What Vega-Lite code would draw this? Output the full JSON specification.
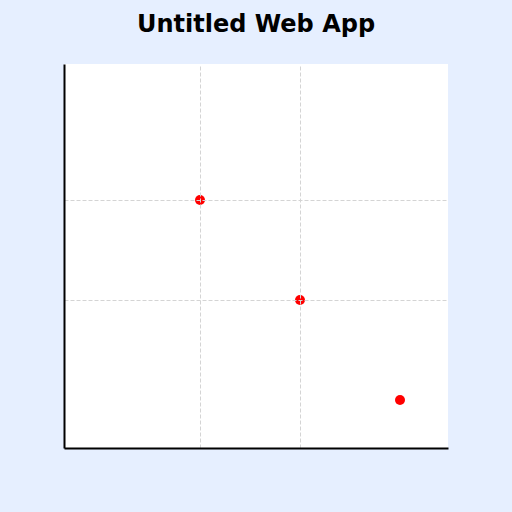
{
  "$schema": "https://vega.github.io/schema/vega-lite/v6.json",
  "autosize": "none",
  "width": 384,
  "height": 384,
  "padding": {"left": 64, "top": 64, "right": 64, "bottom": 64},
  "background": "#e6efff",
  "title": {
    "text": "Untitled Web App",
    "font": "DejaVu Sans",
    "fontSize": 24,
    "fontWeight": "bold",
    "color": "black",
    "anchor": "middle",
    "baseline": "alphabetic",
    "offset": 8
  },
  "config": {
    "view": {"stroke": null, "fill": "white"}
  },
  "data": {
    "values": [
      {"x": 200, "y": 200},
      {"x": 300, "y": 300},
      {"x": 400, "y": 400}
    ]
  },
  "mark": {"type": "circle", "color": "red", "opacity": 1, "size": 100},
  "encoding": {
    "x": {
      "field": "x",
      "type": "quantitative",
      "title": null,
      "scale": {"domain": [64, 448], "nice": false, "zero": false},
      "axis": {
        "values": [200, 300],
        "labels": false,
        "ticks": false,
        "domainColor": "black",
        "domainWidth": 2,
        "gridColor": "#d4d4d4",
        "gridDash": [4, 2],
        "gridWidth": 1,
        "zindex": 1
      }
    },
    "y": {
      "field": "y",
      "type": "quantitative",
      "title": null,
      "scale": {"domain": [64, 448], "nice": false, "zero": false, "reverse": true},
      "axis": {
        "values": [200, 300],
        "labels": false,
        "ticks": false,
        "domainColor": "black",
        "domainWidth": 2,
        "gridColor": "#d4d4d4",
        "gridDash": [4, 2],
        "gridWidth": 1,
        "zindex": 1
      }
    }
  }
}
